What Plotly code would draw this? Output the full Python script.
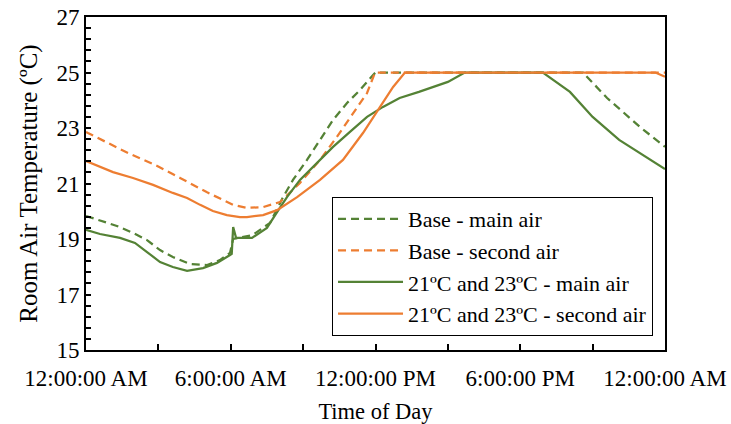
import plotly.graph_objects as go

# ---- data (hours since midnight, temperature in ºC) ----
base_main_hours = [0, 1.28, 1.95, 2.53, 3.07, 3.6, 4.31, 5.02, 5.55, 5.97, 6.1, 6.9,
                   7.63, 8.17, 8.58, 9.16, 9.7, 10.24, 10.82, 11.36, 11.9, 12.0,
                   20.6, 21.6, 22.96, 24.0]
base_main_temp = [19.83, 19.47, 19.22, 18.96, 18.6, 18.35, 18.1, 18.06, 18.24, 18.5, 19.0, 19.14,
                  19.58, 20.51, 21.13, 21.85, 22.57, 23.29, 23.9, 24.37, 24.91, 25.0,
                  25.0, 24.08, 23.04, 22.32]

base_second_hours = [0, 0.08, 1.74, 2.86, 3.9, 5.0, 6.1, 6.67, 7.34, 8.04, 8.87, 9.7,
                     10.4, 11.07, 11.65, 11.98, 24.0]
base_second_temp = [22.86, 22.82, 22.10, 21.67, 21.2, 20.69, 20.23, 20.12, 20.15, 20.33, 21.02, 21.85,
                    22.68, 23.54, 24.26, 25.0, 25.0]

alt_main_hours = [0, 0.58, 1.41, 2.03, 2.53, 3.07, 3.6, 4.19, 4.85, 5.43, 5.97, 6.04, 6.1, 6.22,
                  6.88, 7.5, 7.92, 8.33, 8.87, 9.58, 10.24, 10.94, 11.65, 12.31, 13.0, 13.8,
                  14.3, 15.0, 15.7, 18.94, 20.06, 21.0, 22.1, 23.1, 24.0]
alt_main_temp = [19.33, 19.18, 19.04, 18.86, 18.53, 18.17, 17.99, 17.85, 17.95, 18.14, 18.42, 18.46, 19.43, 19.04,
                 19.04, 19.4, 19.97, 20.51, 21.13, 21.74, 22.32, 22.86, 23.4, 23.76, 24.08, 24.3,
                 24.44, 24.66, 25.0, 25.0, 24.3, 23.4, 22.57, 22.03, 21.52]

alt_second_hours = [0, 1.12, 1.95, 2.78, 3.6, 4.19, 4.73, 5.26, 5.84, 6.38, 6.67, 7.34, 7.92,
                    8.75, 9.7, 10.65, 11.48, 12.19, 12.73, 13.22, 23.6, 24.0]
alt_second_temp = [21.81, 21.41, 21.2, 20.95, 20.66, 20.48, 20.23, 20.01, 19.86, 19.79, 19.79, 19.86, 20.04,
                   20.51, 21.13, 21.85, 22.82, 23.76, 24.48, 25.0, 25.0, 24.85]

series_names = ["Base - main air", "Base - second air",
                "21ºC and 23ºC - main air", "21ºC and 23ºC - second air"]

x_tick_hours = [0, 6, 12, 18, 24]
x_tick_labels = ["12:00:00 AM", "6:00:00 AM", "12:00:00 PM", "6:00:00 PM", "12:00:00 AM"]
y_tick_values = [15, 17, 19, 21, 23, 25, 27]

GREEN = "#548235"
ORANGE = "#ED7D31"
FONT = "Liberation Serif"
DASH = "8px,5px"
TICK_SIZE = 23
XTITLE_SIZE = 22.5
YTITLE_SIZE = 25
LEGEND_SIZE = 22

fig = go.Figure()
fig.add_trace(go.Scatter(x=base_main_hours, y=base_main_temp, mode="lines", name=series_names[0],
                         line=dict(color=GREEN, width=2.25, dash=DASH)))
fig.add_trace(go.Scatter(x=base_second_hours, y=base_second_temp, mode="lines", name=series_names[1],
                         line=dict(color=ORANGE, width=2.25, dash=DASH)))
fig.add_trace(go.Scatter(x=alt_main_hours, y=alt_main_temp, mode="lines", name=series_names[2],
                         line=dict(color=GREEN, width=2.25)))
fig.add_trace(go.Scatter(x=alt_second_hours, y=alt_second_temp, mode="lines", name=series_names[3],
                         line=dict(color=ORANGE, width=2.25)))

fig.update_layout(
    width=731, height=424,
    margin=dict(l=86, r=66, t=17, b=74),
    paper_bgcolor="white", plot_bgcolor="white",
    font=dict(family=FONT, size=XTITLE_SIZE, color="black"),
    showlegend=True,
    legend=dict(x=0.4249, y=0.4595, xanchor="left", yanchor="top",
                bgcolor="white", bordercolor="black", borderwidth=1,
                font=dict(family=FONT, size=LEGEND_SIZE, color="black"),
                itemwidth=65, tracegroupgap=0),
)

fig.update_xaxes(
    range=[0, 24], tickvals=x_tick_hours, ticktext=x_tick_labels,
    ticks="inside", ticklen=6, tickwidth=1.5, tickcolor="black",
    minor=dict(dtick=3, tick0=0, ticks="inside", ticklen=6, tickwidth=1.5, tickcolor="black", showgrid=False),
    showline=True, linecolor="black", linewidth=2, mirror=True,
    showgrid=False, zeroline=False, ticklabelstandoff=6, automargin=False,
    tickfont=dict(family=FONT, size=TICK_SIZE, color="black"),
    title=dict(text="Time of Day", font=dict(family=FONT, size=XTITLE_SIZE, color="black"), standoff=14),
)
fig.update_yaxes(
    range=[15, 27], tickvals=y_tick_values,
    ticks="inside", ticklen=5, tickwidth=1.5, tickcolor="black",
    minor=dict(dtick=0.4, tick0=15, ticks="inside", ticklen=5, tickwidth=1.5, tickcolor="black", showgrid=False),
    showline=True, linecolor="black", linewidth=2, mirror=True,
    showgrid=False, zeroline=False, automargin=False,
    tickfont=dict(family=FONT, size=TICK_SIZE, color="black"),
    title=dict(text="Room Air Temperature (ºC)", font=dict(family=FONT, size=YTITLE_SIZE, color="black"), standoff=12),
)

fig.write_html("out.html")
